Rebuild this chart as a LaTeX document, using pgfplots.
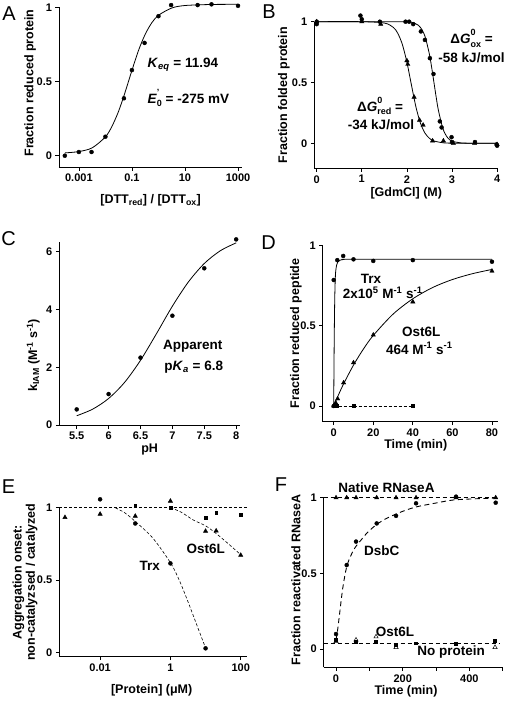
\documentclass[border=0pt]{standalone}
\usepackage{fontspec}
\setmainfont{Liberation Sans}
\usepackage{pgfplots}
\pgfplotsset{compat=1.18}
\pgfplotsset{
  panel/.style={
    scale only axis, anchor=south west, axis lines=left,
    axis line style={-, line width=0.75pt},
    tick align=outside, major tick length=3.5pt,
    every tick/.style={black, line width=0.75pt},
    clip=false,
    tick label style={font=\fontsize{11}{12}\selectfont\bfseries},
    label style={font=\fontsize{12.5}{13.4}\selectfont\bfseries},
    /pgf/number format/assume math mode=true,
    xlabel style={anchor=center}, ylabel style={anchor=center},
  },
  dot/.style={only marks, mark=*, mark size=2pt, black},
  tri/.style={only marks, mark=triangle*, mark size=2.5pt, black},
  otri/.style={only marks, mark=triangle, mark size=2.5pt, black, mark options={line width=0.5pt}},
  sq/.style={only marks, mark=square*, mark size=1.4pt, black},
  fit/.style={no markers, smooth, black, line width=0.8pt},
}
\newcommand{\ann}{\fontsize{13.5}{15}\selectfont\bfseries}
\newcommand{\plet}{\fontsize{20}{20}\selectfont}
% stacked superscript / subscript without overlapping boxes
\newcommand{\supsub}[2]{\rlap{\raisebox{0.6em}{\fontsize{9}{9}\selectfont #1}}\raisebox{-0.25em}{\fontsize{9}{9}\selectfont #2}}

\begin{document}
\begin{tikzpicture}
\path[use as bounding box] (0,0) rectangle (512pt,-703pt);

% ---------------- A ----------------
\begin{axis}[panel, at={(59pt,-167pt)}, width=183.3pt, height=159.7pt,
  xmode=log, xmin=1.78e-4, xmax=1450, ymin=-0.076, ymax=1,
  xtick={0.001,0.1,10,1000}, xticklabels={0.001,0.1,10,1000}, xminorticks=false,
  ytick={0,0.5,1},
  xlabel={[DTT\textsubscript{red}] / [DTT\textsubscript{ox}]},
  ylabel={Fraction reduced protein},
  xlabel style={at={(axis description cs:0.5,-0.207)}},
  ylabel style={at={(axis description cs:-0.158,0.526)}},
]
\addplot[fit] coordinates {(3.0e-4,0.019)(1e-3,0.028)(3.162e-3,0.053)(1e-2,0.127)(1.778e-2,0.199)(3.162e-2,0.301)(5.623e-2,0.432)(0.1,0.575)(0.1778,0.710)(0.3162,0.818)(0.5623,0.896)(1,0.946)(3.162,0.995)(10,1.012)(100,1.019)(1000,1.02)};
\addplot[dot] coordinates {(2.95e-4,0.0)(1e-3,0.025)(3e-3,0.025)(1e-2,0.128)(5e-2,0.387)(0.1,0.577)(0.3,0.76)(1,0.94)(3,1.015)(30,1.015)(100,1.02)(1000,1.01)};
\end{axis}

% ---------------- B ----------------
\begin{axis}[panel, at={(314.3pt,-168.3pt)}, width=184pt, height=146.6pt,
  xmin=-0.053, xmax=4.027, ymin=-0.206, ymax=1,
  xtick={0,1,2,3,4}, ytick={0,0.5,1},
  xlabel={[GdmCl] (M)},
  ylabel={Fraction folded protein},
  xlabel style={at={(axis description cs:0.5,-0.168)}},
  ylabel style={at={(axis description cs:-0.165,0.5)}},
]
\addplot[fit] coordinates {(0,1)(1.0,1.0)(1.5,0.989)(1.7,0.953)(1.8,0.903)(1.9,0.812)(2.0,0.667)(2.1,0.481)(2.2,0.30)(2.3,0.166)(2.4,0.084)(2.5,0.041)(2.6,0.019)(2.8,0.004)(3.0,0.001)(4.0,0)};
\addplot[fit] coordinates {(0,1)(1,1)(2.0,0.998)(2.2,0.982)(2.3,0.953)(2.4,0.881)(2.5,0.731)(2.55,0.622)(2.6,0.5)(2.65,0.378)(2.7,0.269)(2.8,0.119)(2.9,0.047)(3.0,0.018)(3.2,0.003)(3.5,0)(4.0,0)};
\addplot[dot] coordinates {(0,1.0)(0,0.98)(0.97,1.05)(1.0,1.02)(1.4,1.0)(1.97,1.0)(2.05,1.0)(2.14,0.98)(2.31,0.92)(2.40,0.85)(2.51,0.70)(2.59,0.57)(2.73,0.18)(2.77,0.13)(2.99,0.05)(3.0,0.01)(3.51,0.01)(3.99,-0.01)(4.0,-0.02)};
\addplot[tri] coordinates {(0,1.0)(1.0,1.0)(1.42,0.98)(2.0,0.68)(2.02,0.65)(2.16,0.38)(2.28,0.19)(2.36,0.15)(2.57,0.02)(2.81,0.02)(3.03,0.0)(3.5,0.0)(4.0,-0.01)};
\end{axis}

% ---------------- C ----------------
\begin{axis}[panel, at={(59.3pt,-425pt)}, width=180.7pt, height=183.3pt,
  xmin=5.227, xmax=8.06, ymin=0, ymax=6.34,
  xtick={5.5,6,6.5,7,7.5,8}, ytick={0,2,4,6},
  xlabel={pH},
  ylabel={k\textsubscript{IAM} (M\textsuperscript{-1} s\textsuperscript{-1})},
  xlabel style={at={(axis description cs:0.5,-0.136)}},
  ylabel style={at={(axis description cs:-0.144,0.38)}},
]
\addplot[fit] coordinates {(5.5,0.32)(5.75,0.548)(6.0,0.917)(6.25,1.473)(6.5,2.237)(6.75,3.157)(7.0,4.11)(7.25,4.945)(7.5,5.586)(7.75,6.025)(8.0,6.30)};
\addplot[dot] coordinates {(5.5,0.54)(6,1.07)(6.5,2.33)(7,3.78)(7.5,5.42)(8,6.42)};
\end{axis}

% ---------------- D ----------------
\begin{axis}[panel, at={(322.7pt,-421.7pt)}, width=175.6pt, height=176pt,
  xmin=-5.56, xmax=83.2, ymin=-0.098, ymax=1,
  xtick={0,20,40,60,80}, ytick={0,0.5,1},
  xlabel={Time (min)},
  ylabel={Fraction reduced peptide},
  xlabel style={at={(axis description cs:0.53,-0.132)}},
  ylabel style={at={(axis description cs:-0.152,0.502)}},
]
\addplot[black, line width=0.7pt, dash pattern=on 3pt off 2pt] coordinates {(0,0)(40,0)};
\addplot[fit] coordinates {(0,0)(0.25,0.4)(0.5,0.65)(0.75,0.78)(1,0.84)(1.5,0.88)(2,0.897)(3,0.908)(5,0.914)(10,0.915)(80,0.915)};
\addplot[fit] coordinates {(0,0)(2,0.058)(5,0.138)(10,0.255)(15,0.355)(20,0.44)(30,0.573)(40,0.669)(50,0.739)(60,0.789)(70,0.825)(80,0.852)};
\addplot[dot] coordinates {(0,0)(0,0.786)(1.8,0.91)(4.8,0.936)(10,0.915)(20,0.905)(40,0.91)(80,0.90)};
\addplot[tri] coordinates {(0,0)(1,0.02)(2,0.045)(5,0.145)(10,0.27)(20,0.443)(40,0.65)(80,0.842)};
\addplot[sq] coordinates {(0.3,0)(1.5,0)(10,0)(40,0)};
\end{axis}

% ---------------- E ----------------
\begin{axis}[panel, at={(59.3pt,-656.7pt)}, width=187.4pt, height=149pt,
  xmode=log, xmin=6.9e-4, xmax=148, ymin=-0.03, ymax=1,
  xtick={0.01,1,100}, xticklabels={0.01,1,100}, xminorticks=false,
  ytick={0,0.5,1},
  xlabel={[Protein] (μM)},
  ylabel={Aggregation onset:\\non-catalyzsed / catalyzed},
  xlabel style={at={(axis description cs:0.493,-0.223)}},
  ylabel style={at={(axis description cs:-0.183,0.5)}, align=center},
]
\addplot[black, line width=0.6pt, dash pattern=on 3pt off 2pt] coordinates {(6.9e-4,1)(148,1)};
\addplot[black, smooth, line width=0.6pt, dash pattern=on 3pt off 2pt] coordinates {(0.0269,1.0)(0.0501,0.965)(0.1,0.905)(0.316,0.79)(1,0.62)(1.778,0.5)(3.162,0.35)(5.623,0.19)(10,0.03)};
\addplot[black, smooth, line width=0.6pt, dash pattern=on 3pt off 2pt] coordinates {(1,1.0)(2,0.97)(4.47,0.915)(10,0.875)(20.4,0.82)(44.7,0.75)(100,0.675)};
\addplot[tri] coordinates {(0.001,0.933)(0.01,0.956)(0.1,0.942)(1,1.046)(10,0.838)(20,0.84)(100,0.672)};
\addplot[sq] coordinates {(0.1,1.013)(1,1.0)(10,0.933)(20,0.965)(100,0.953)};
\addplot[dot] coordinates {(0.01,1.058)(0.1,0.891)(1,0.615)(10,0.028)};
\end{axis}

% ---------------- F ----------------
\begin{axis}[panel, at={(323.7pt,-667.3pt)}, width=179pt, height=169.6pt,
  xmin=-37, xmax=500, ymin=-0.121, ymax=1,
  xtick={0,100,200,300,400,500}, xticklabels={0,,200,,400,}, ytick={0,0.5,1},
  xlabel={Time (min)},
  ylabel={Fraction reactivated RNaseA},
  xlabel style={at={(axis description cs:0.46,-0.144)}},
  ylabel style={at={(axis description cs:-0.155,0.515)}},
]
\addplot[black, line width=0.8pt, dash pattern=on 4pt off 3pt] coordinates {(-37,1)(480,1)};
\addplot[black, line width=0.8pt, dash pattern=on 4pt off 3pt] coordinates {(-37,0.038)(490,0.038)};
\addplot[black, smooth, line width=0.9pt, dash pattern=on 5pt off 3.5pt] coordinates {(0,0.06)(5,0.13)(10,0.22)(20,0.4)(32,0.544)(45,0.62)(57,0.67)(75,0.72)(92,0.765)(120,0.82)(152,0.864)(200,0.91)(242,0.94)(300,0.965)(352,0.985)(420,0.993)(480,0.997)};
\addplot[tri] coordinates {(0,1)(32,1)(60,1)(122,1)(180,1)(240,1)(360,1)(479,1)};
\addplot[dot] coordinates {(0,0.099)(32,0.555)(60,0.71)(122,0.83)(180,0.88)(240,0.963)(360,1.007)(479,0.967)};
\addplot[sq] coordinates {(0,0.064)(60,0.048)(120,0.048)(180,0.031)(240,0.038)(360,0.033)(477,0.055)};
\addplot[otri] coordinates {(0,0.05)(60,0.06)(120,0.081)(180,0.011)(477,0.011)};
\end{axis}

% ---------------- annotations ----------------
\node[font=\ann, anchor=west] at (144pt,-65pt) {\textit{K}\textsubscript{\textit{eq}} = 11.94};
\node[font=\ann, anchor=west] at (144pt,-98pt) {\textit{E}\supsub{'}{0} = -275 mV};

\node[font=\ann] at (471.5pt,-38.5pt) {Δ\textit{G}\supsub{0}{ox} =};
\node[font=\ann] at (471.5pt,-58pt) {-58 kJ/mol};
\node[font=\ann] at (380pt,-106pt) {Δ\textit{G}\supsub{0}{red} =};
\node[font=\ann] at (381pt,-124.5pt) {-34 kJ/mol};

\node[font=\ann] at (192.7pt,-346.7pt) {Apparent};
\node[font=\ann] at (193.7pt,-366.7pt) {p\textit{K}\textsubscript{\textit{a}} = 6.8};

\node[font=\ann] at (371pt,-279.3pt) {Trx};
\node[font=\ann] at (382.7pt,-292.7pt) {2x10\textsuperscript{5} M\textsuperscript{-1} s\textsuperscript{-1}};
\node[font=\ann] at (421.3pt,-331.7pt) {Ost6L};
\node[font=\ann] at (419.3pt,-348.3pt) {464 M\textsuperscript{-1} s\textsuperscript{-1}};

\node[font=\ann] at (149.7pt,-566pt) {Trx};
\node[font=\ann] at (205.8pt,-549.3pt) {Ost6L};

\node[font=\ann] at (386.5pt,-488pt) {Native RNaseA};
\node[font=\ann] at (381.7pt,-550.7pt) {DsbC};
\node[font=\ann] at (395pt,-631.7pt) {Ost6L};
\node[font=\ann] at (451.2pt,-652.3pt) {No protein};

% panel letters
\node[font=\plet] at (9pt,-14pt) {A};
\node[font=\plet] at (269pt,-12pt) {B};
\node[font=\plet] at (8.5pt,-239pt) {C};
\node[font=\plet] at (268.5pt,-242.5pt) {D};
\node[font=\plet] at (8.5pt,-486.7pt) {E};
\node[font=\plet] at (281pt,-485pt) {F};
\end{tikzpicture}
\end{document}
